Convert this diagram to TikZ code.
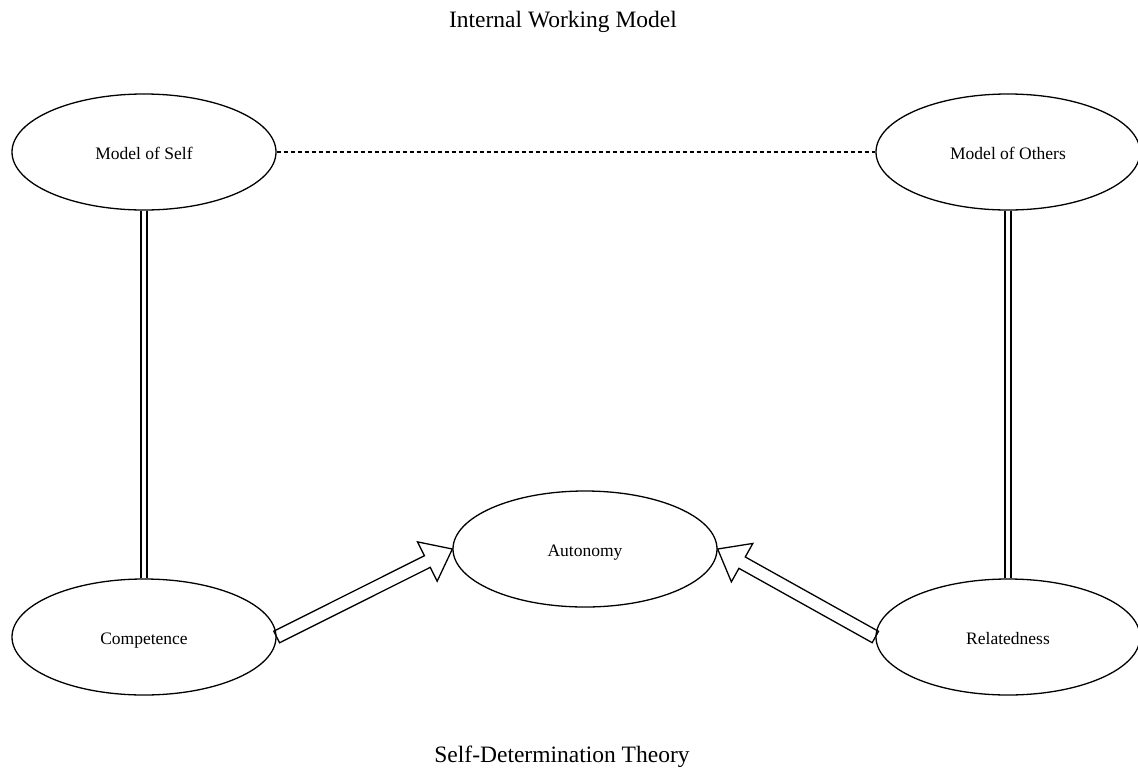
\documentclass[tikz,border=0pt]{standalone}
\usepackage{fontspec}
\setmainfont{Liberation Serif}
\usetikzlibrary{calc, shapes.geometric}

\tikzset{
  modell/.style={draw, ellipse, line width=1.3pt, minimum width=264pt, minimum height=116pt, inner sep=0pt,
                 text height=15pt, text depth=0pt, font=\fontsize{17.5}{21}\selectfont},
  titel/.style={font=\fontsize{23.5}{28}\selectfont},
  hohlpfeil/.style={draw, line width=1.3pt, line join=miter},
  doppel/.style={double, double distance=4.5pt, line width=1.3pt},
  gestrichelt/.style={line width=1.1pt, dash pattern=on 4pt off 3pt},
}

% Hohlpfeil von #1 nach #2, #3 = Praefix fuer Hilfskoordinaten
\newcommand{\blockpfeil}[3]{%
  \coordinate (#3a) at (#1);
  \coordinate (#3b) at (#2);
  \coordinate (#3h) at ($(#3b)!28pt!(#3a)$);
  \draw[hohlpfeil] ($(#3a)!6.5pt!90:(#3b)$) -- ($(#3h)!6.5pt!-90:(#3a)$) -- ($(#3h)!22pt!-90:(#3a)$)
    -- (#3b) -- ($(#3h)!22pt!90:(#3a)$) -- ($(#3h)!6.5pt!90:(#3a)$) -- ($(#3a)!6.5pt!-90:(#3b)$) -- cycle;
}

\begin{document}
\begin{tikzpicture}[x=1pt, y=-1pt] % Pixelkoordinaten, y nach unten

    \useasboundingbox (0,0) rectangle (1138,769);

    % Ueberschriften
    \node[titel] (iwm) at (563,22) {Internal Working Model};
    \node[titel] (sdt) at (562,757) {Self-Determination Theory};

    % Ellipsen
    \foreach \name/\x/\y/\txt in {self/144/152/Model of Self, others/1008/152/Model of Others,
                                  auto/585/549/Autonomy, comp/144/637/Competence, rel/1008/637/Relatedness} {
        \node[modell] (\name) at (\x,\y) {\txt};
    }

    % Verbindungen
    \draw[gestrichelt] (self) -- (others);
    \draw[doppel] (self) -- (comp);
    \draw[doppel] (others) -- (rel);

    % Hohlpfeile zur Autonomie
    \blockpfeil{comp.east}{auto.west}{pl}
    \blockpfeil{rel.west}{auto.east}{pr}
\end{tikzpicture}
\end{document}
